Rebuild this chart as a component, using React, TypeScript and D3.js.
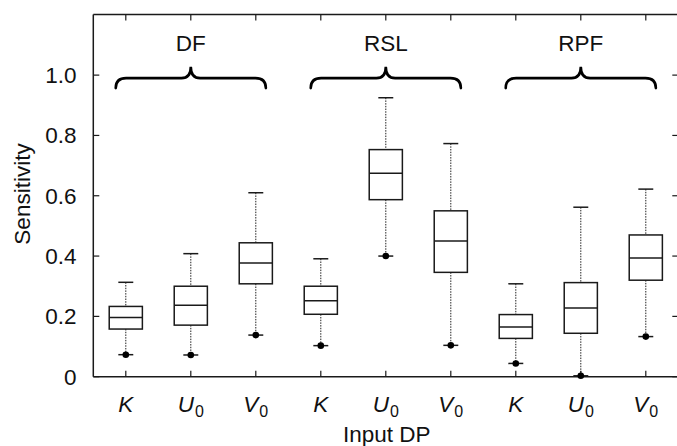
import React from "react";
import * as d3 from "d3";

const groups = ["DF", "RSL", "RPF"];
const params = [
  { main: "K", sub: "" },
  { main: "U", sub: "0" },
  { main: "V", sub: "0" },
];
const whiskerLow = [0.073, 0.072, 0.138, 0.103, 0.4, 0.104, 0.044, 0.003, 0.133];
const q1 = [0.158, 0.171, 0.308, 0.207, 0.587, 0.346, 0.127, 0.144, 0.32];
const median = [0.196, 0.237, 0.377, 0.252, 0.675, 0.45, 0.165, 0.228, 0.394];
const q3 = [0.233, 0.3, 0.444, 0.3, 0.753, 0.55, 0.206, 0.312, 0.47];
const whiskerHigh = [0.313, 0.408, 0.61, 0.391, 0.925, 0.773, 0.308, 0.562, 0.622];
const yTicks = [0, 0.2, 0.4, 0.6, 0.8, 1.0];
const yTickLabels = ["0", "0.2", "0.4", "0.6", "0.8", "1.0"];

const W = 677;
const H = 446;
const FONT = "'Liberation Sans', Arial, Helvetica, sans-serif";

export default function App() {
  const left = 93.3;
  const right = 678.3;
  const top = 14.5;
  const bottom = 376.7;
  const n = groups.length * params.length;
  const idx = d3.range(n);
  const x = d3.scaleBand<number>().domain(idx).range([left, right]).padding(0);
  const step = x.bandwidth();
  const cx = (i: number) => (x(i) as number) + step / 2;
  const y = d3.scaleLinear().domain([0, 1.2]).range([bottom, top + 0.3]);
  const boxW = step * 0.51;
  const capW = step * 0.23;
  const ink = "#1a1a1a";

  const bracePath = (g: number) => {
    const xL = cx(g * 3) - step * 0.155;
    const xR = cx(g * 3 + 2) + step * 0.155;
    const xM = cx(g * 3 + 1);
    const yB = y(0.957);
    const yH = y(0.99);
    const yP = y(1.028);
    const r = step * 0.16;
    const p = d3.path();
    p.moveTo(xL, yB);
    p.quadraticCurveTo(xL, yH, xL + r, yH);
    p.lineTo(xM - r * 0.9, yH);
    p.quadraticCurveTo(xM, yH, xM, yP);
    p.quadraticCurveTo(xM, yH, xM + r * 0.9, yH);
    p.lineTo(xR - r, yH);
    p.quadraticCurveTo(xR, yH, xR, yB);
    return p.toString();
  };

  return (
    <svg
      width={W}
      height={H}
      style={{ position: "absolute", left: 0, top: 0, display: "block", background: "#fff" }}
      fontFamily={FONT}
    >
      {/* frame */}
      <line x1={left} x2={left} y1={top} y2={bottom} stroke={ink} strokeWidth={1.5} />
      <line x1={left} x2={right} y1={bottom} y2={bottom} stroke={ink} strokeWidth={1.5} />
      <line x1={left} x2={right} y1={top} y2={top} stroke={ink} strokeWidth={1.5} />
      <line x1={right} x2={right} y1={top} y2={bottom} stroke={ink} strokeWidth={1.5} />

      {/* y ticks */}
      {yTicks.map((t, i) => (
        <g key={"yt" + i}>
          <line x1={left} x2={left + 6} y1={y(t)} y2={y(t)} stroke={ink} strokeWidth={1.2} />
          <line x1={right - 6} x2={right} y1={y(t)} y2={y(t)} stroke={ink} strokeWidth={1.2} />
          <text x={76.5} y={y(t) + 8} textAnchor="end" fontSize={22.5} fill="#111">
            {yTickLabels[i]}
          </text>
        </g>
      ))}

      {/* x ticks */}
      {idx.map((i) => (
        <g key={"xt" + i}>
          <line x1={cx(i)} x2={cx(i)} y1={bottom} y2={bottom - 6} stroke={ink} strokeWidth={1.2} />
          <line x1={cx(i)} x2={cx(i)} y1={top} y2={top + 6} stroke={ink} strokeWidth={1.2} />
          <text x={cx(i)} y={411.5} textAnchor="middle" fontSize={22.5} fill="#111">
            <tspan fontStyle="italic">{params[i % 3].main}</tspan>
            {params[i % 3].sub ? (
              <tspan fontSize={16} dy={5} dx={1}>
                {params[i % 3].sub}
              </tspan>
            ) : null}
          </text>
        </g>
      ))}

      {/* boxes */}
      {idx.map((i) => {
        const c = cx(i);
        return (
          <g key={"b" + i}>
            <line
              x1={c}
              x2={c}
              y1={y(whiskerHigh[i])}
              y2={y(q3[i])}
              stroke="#222"
              strokeWidth={1}
              strokeDasharray="1.5,1.2"
            />
            <line
              x1={c}
              x2={c}
              y1={y(q1[i])}
              y2={y(whiskerLow[i])}
              stroke="#222"
              strokeWidth={1}
              strokeDasharray="1.5,1.2"
            />
            <line x1={c - capW / 2} x2={c + capW / 2} y1={y(whiskerHigh[i])} y2={y(whiskerHigh[i])} stroke={ink} strokeWidth={1.5} />
            <line x1={c - capW / 2} x2={c + capW / 2} y1={y(whiskerLow[i])} y2={y(whiskerLow[i])} stroke={ink} strokeWidth={1.5} />
            <circle cx={c} cy={y(whiskerLow[i])} r={3.3} fill="#000" />
            <rect
              x={c - boxW / 2}
              y={y(q3[i])}
              width={boxW}
              height={y(q1[i]) - y(q3[i])}
              fill="#fff"
              stroke={ink}
              strokeWidth={1.5}
            />
            <line x1={c - boxW / 2} x2={c + boxW / 2} y1={y(median[i])} y2={y(median[i])} stroke={ink} strokeWidth={1.5} />
          </g>
        );
      })}

      {/* braces and group labels */}
      {groups.map((g, gi) => (
        <g key={"g" + g}>
          <path d={bracePath(gi)} fill="none" stroke="#000" strokeWidth={2.6} strokeLinecap="round" />
          <text x={cx(gi * 3 + 1)} y={y(1.081)} textAnchor="middle" fontSize={22.5} fill="#111">
            {g}
          </text>
        </g>
      ))}

      {/* axis titles */}
      <text
        transform={`translate(30, 194) rotate(-90)`}
        textAnchor="middle"
        fontSize={22.5}
        fill="#111"
      >
        Sensitivity
      </text>
      <text x={(left + right) / 2 + 1} y={442} textAnchor="middle" fontSize={22.5} fill="#111">
        Input DP
      </text>
    </svg>
  );
}
